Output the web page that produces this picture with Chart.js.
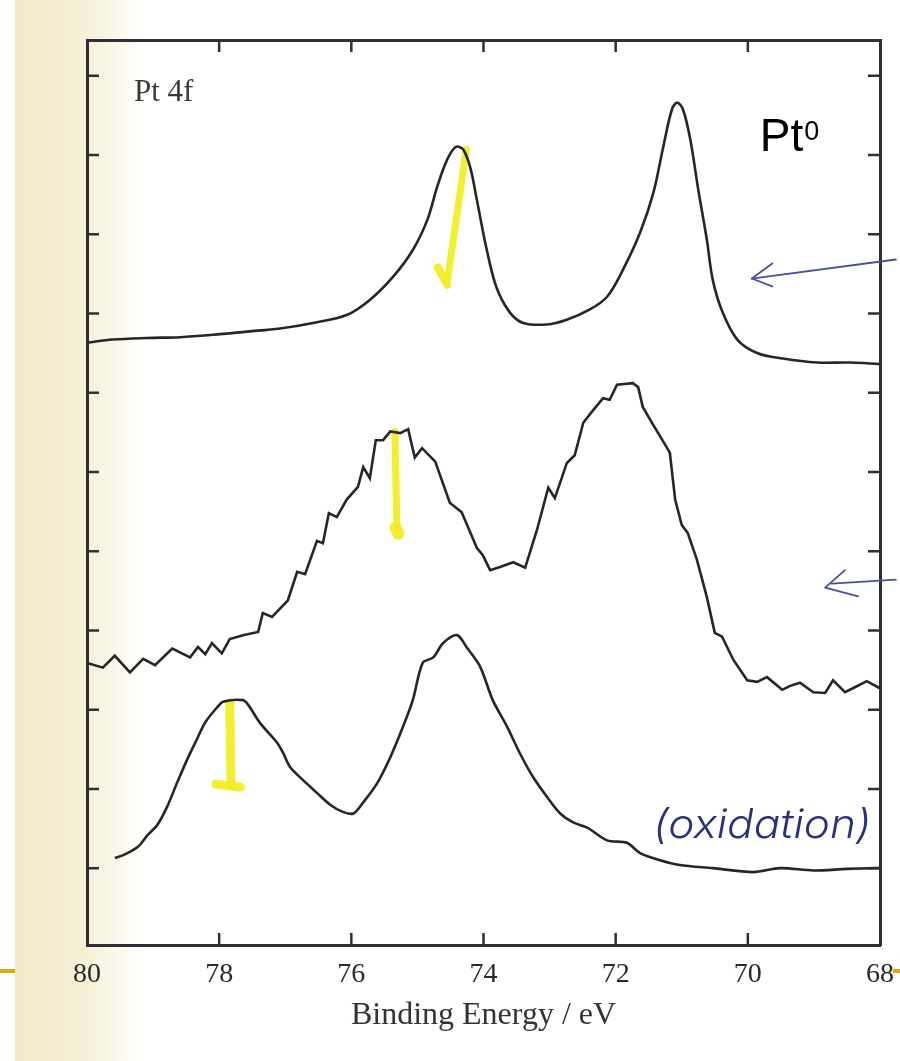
<!DOCTYPE html>
<html><head><meta charset="utf-8">
<script src="https://cdn.jsdelivr.net/npm/chart.js@4.4.1/dist/chart.umd.min.js"></script>
<style>html,body{margin:0;padding:0;background:#fff;overflow:hidden}canvas{display:block}</style>
</head><body>
<canvas id="c" width="900" height="1061"></canvas>
<script>
// ---------------- data ----------------
// x: binding energy (eV); y: intensity in units of the y tick spacing (spectra stacked with offsets)
const energyTop = [80.00, 79.61, 79.09, 78.59, 78.09, 77.58, 77.08, 76.58, 76.07, 75.72, 75.37, 75.07, 74.85, 74.70, 74.55, 74.42, 74.31, 74.20, 74.10, 73.95, 73.80, 73.60, 73.40, 73.04, 72.74, 72.39, 72.13, 71.89, 71.63, 71.43, 71.28, 71.15, 71.07, 70.98, 70.87, 70.75, 70.62, 70.53, 70.38, 70.16, 69.86, 69.47, 68.95, 68.45, 68.00];
const intensityTop = [6.63, 6.67, 6.69, 6.70, 6.73, 6.77, 6.81, 6.88, 6.98, 7.17, 7.46, 7.80, 8.18, 8.60, 8.94, 9.10, 9.07, 8.84, 8.43, 7.80, 7.32, 7.01, 6.88, 6.86, 6.92, 7.05, 7.21, 7.55, 8.02, 8.52, 9.10, 9.57, 9.66, 9.57, 9.19, 8.56, 7.93, 7.42, 7.01, 6.67, 6.50, 6.43, 6.38, 6.38, 6.36];

const energyMid = [80.00, 79.76, 79.58, 79.35, 79.15, 78.97, 78.71, 78.44, 78.32, 78.21,
  78.11, 77.96, 77.84, 77.64, 77.41, 77.34, 77.20, 76.96, 76.82, 76.70,
  76.52, 76.43, 76.34, 76.22, 76.07, 75.90, 75.82, 75.72, 75.63, 75.52,
  75.41, 75.26, 75.14, 75.04, 74.93, 74.73, 74.51, 74.33, 74.10, 74.01,
  73.90, 73.75, 73.55, 73.37, 73.19, 73.02, 72.92, 72.74, 72.62, 72.49,
  72.34, 72.19, 72.09, 71.98, 71.74, 71.66, 71.59, 71.43, 71.22, 71.18,
  71.10, 71.00, 70.91, 70.77, 70.62, 70.50, 70.39, 70.22, 70.01, 69.86,
  69.71, 69.48, 69.36, 69.21, 69.01, 68.83, 68.71, 68.53, 68.41, 68.20, 68.00];
const intensityMid = [2.59, 2.53, 2.68, 2.47, 2.64, 2.56, 2.77, 2.66, 2.79, 2.70,
  2.84, 2.71, 2.89, 2.94, 2.98, 3.22, 3.17, 3.38, 3.74, 3.71,
  4.13, 4.10, 4.48, 4.43, 4.65, 4.81, 5.06, 4.92, 5.40, 5.40,
  5.51, 5.49, 5.54, 5.18, 5.30, 5.13, 4.61, 4.49, 4.04, 3.95,
  3.76, 3.80, 3.86, 3.79, 4.27, 4.80, 4.67, 5.11, 5.21, 5.62,
  5.78, 5.93, 5.91, 6.10, 6.12, 6.07, 5.82, 5.59, 5.30, 5.24,
  4.65, 4.33, 4.23, 3.89, 3.42, 2.97, 2.92, 2.63, 2.37, 2.35,
  2.41, 2.25, 2.30, 2.34, 2.22, 2.21, 2.37, 2.22, 2.27, 2.36, 2.27];

const energyBot = [79.58, 79.46, 79.23, 79.08, 78.94, 78.79, 78.64, 78.49, 78.34, 78.21,
  78.03, 77.94, 77.64, 77.56, 77.38, 77.12, 77.03, 76.93, 76.73, 76.52,
  76.32, 76.13, 75.97, 75.82, 75.61, 75.41, 75.22, 75.07, 74.92, 74.76,
  74.61, 74.40, 74.25, 74.05, 73.86, 73.64, 73.45, 73.25, 73.04, 72.84,
  72.65, 72.43, 72.13, 71.83, 71.63, 71.33, 71.03, 70.53, 69.92, 69.51,
  69.01, 68.50, 68.08, 68.00];
const intensityBot = [0.13, 0.16, 0.27, 0.42, 0.54, 0.77, 1.07, 1.36, 1.62, 1.84,
  2.03, 2.10, 2.12, 2.06, 1.83, 1.58, 1.45, 1.28, 1.11, 0.95,
  0.80, 0.71, 0.69, 0.83, 1.07, 1.40, 1.78, 2.12, 2.59, 2.66,
  2.84, 2.94, 2.78, 2.54, 2.12, 1.78, 1.45, 1.15, 0.90, 0.69,
  0.58, 0.51, 0.35, 0.32, 0.19, 0.10, 0.04, 0.00, -0.05, 0.00,
  -0.03, -0.01, 0.00, 0.00];

const xTickValues = [80, 78, 76, 74, 72, 70, 68];
const yTickValues = [0, 1, 2, 3, 4, 5, 6, 7, 8, 9, 10];
const xAxisTitle = 'Binding Energy / eV';
const panelLabel = 'Pt 4f';
const noteOxidation = '(oxidation)';

// ---------------- layout / style ----------------
const FRAME = {left: 87, right: 880, top: 40, bottom: 945};
const AXIS_COLOR = '#2e2e36';
const INK = '#262626';
const SERIF = '"Liberation Serif", "DejaVu Serif", serif';

function pts(e, v) { return e.map((x, i) => ({x: x, y: v[i]})); }

const backgroundPlugin = {
  id: 'paper',
  beforeDraw(chart) {
    const ctx = chart.ctx;
    ctx.save();
    ctx.fillStyle = '#ffffff';
    ctx.fillRect(0, 0, chart.width, chart.height);
    const g = ctx.createLinearGradient(15, 0, 145, 0);
    g.addColorStop(0, 'rgb(242,232,202)');
    g.addColorStop(0.55, 'rgb(246,240,216)');
    g.addColorStop(1, 'rgba(255,255,255,1)');
    ctx.fillStyle = g;
    ctx.fillRect(15, 0, 130, chart.height);
    // slide template rule peeking out on both sides
    ctx.fillStyle = 'rgb(226,164,24)';
    ctx.fillRect(0, 969, 15, 4);
    ctx.fillRect(893, 969, 7, 4);
    ctx.restore();
  }
};

function P(chart, e, v) {
  return [chart.scales.x.getPixelForValue(e), chart.scales.y.getPixelForValue(v)];
}

const highlightPlugin = {
  id: 'highlight',
  beforeDatasetsDraw(chart) {
    const ctx = chart.ctx;
    ctx.save();
    ctx.strokeStyle = 'rgba(240,238,32,0.92)';
    ctx.lineCap = 'round';
    ctx.lineJoin = 'round';
    const stroke = (list, w) => {
      ctx.lineWidth = w;
      ctx.beginPath();
      list.forEach((p, i) => {
        const q = P(chart, p[0], p[1]);
        if (i === 0) ctx.moveTo(q[0], q[1]); else ctx.lineTo(q[0], q[1]);
      });
      ctx.stroke();
    };
    stroke([[74.26, 9.07], [74.55, 7.39]], 7);
    stroke([[74.69, 7.58], [74.55, 7.36]], 8);
    stroke([[75.34, 5.51], [75.31, 4.27]], 7);
    stroke([[75.33, 4.30], [75.29, 4.22]], 12);
    stroke([[77.84, 2.08], [77.82, 1.05]], 9);
    stroke([[78.05, 1.06], [77.68, 1.02]], 9);
    ctx.restore();
  }
};

const overlayPlugin = {
  id: 'overlay',
  afterDraw(chart) {
    const ctx = chart.ctx;
    const a = chart.chartArea;
    const x = chart.scales.x, y = chart.scales.y;
    ctx.save();
    // inward tick marks on all four sides
    ctx.strokeStyle = AXIS_COLOR;
    ctx.lineWidth = 2.5;
    ctx.beginPath();
    x.ticks.forEach(t => {
      if (t.value === x.min || t.value === x.max) return;
      const px = x.getPixelForValue(t.value);
      ctx.moveTo(px, a.bottom); ctx.lineTo(px, a.bottom - 12);
      ctx.moveTo(px, a.top); ctx.lineTo(px, a.top + 12);
    });
    y.ticks.forEach(t => {
      const py = y.getPixelForValue(t.value);
      ctx.moveTo(a.left, py); ctx.lineTo(a.left + 12, py);
      ctx.moveTo(a.right, py); ctx.lineTo(a.right - 12, py);
    });
    ctx.stroke();

    // panel label
    ctx.fillStyle = '#3a3a3a';
    ctx.font = '31px ' + SERIF;
    ctx.textBaseline = 'alphabetic';
    ctx.textAlign = 'left';
    ctx.fillText(panelLabel, 134, 101);

    // Pt0 label
    ctx.fillStyle = '#000';
    ctx.font = '46px "Liberation Sans", Arial, sans-serif';
    const lp = P(chart, 69.82, 9.05);
    ctx.fillText('Pt', lp[0], lp[1]);
    const w = ctx.measureText('Pt').width;
    ctx.font = '27px "Liberation Sans", Arial, sans-serif';
    ctx.fillText('0', lp[0] + w + 1, lp[1] - 11);

    // hand-drawn blue arrows
    ctx.strokeStyle = 'rgb(72,80,160)';
    ctx.lineWidth = 1.8;
    ctx.lineCap = 'round';
    ctx.lineJoin = 'round';
    const path = (list) => {
      ctx.beginPath();
      list.forEach((p, i) => {
        const q = P(chart, p[0], p[1]);
        if (i === 0) ctx.moveTo(q[0], q[1]); else ctx.lineTo(q[0], q[1]);
      });
      ctx.stroke();
    };
    path([[67.76, 7.68], [69.94, 7.44]]);
    path([[69.63, 7.63], [69.94, 7.44], [69.63, 7.34]]);
    path([[68.73, 3.59], [67.76, 3.64]]);
    path([[68.53, 3.76], [68.83, 3.54], [68.33, 3.43]]);

    // handwritten note
    const np = P(chart, 71.43, 0.38);
    ctx.fillStyle = 'rgb(42,48,125)';
    ctx.font = 'italic 300 28px Inter, "Open Sans", "DejaVu Sans", sans-serif';
    const nw = ctx.measureText(noteOxidation).width;
    ctx.translate(np[0], np[1]);
    ctx.scale(218 / nw, 1.45);
    ctx.fillText(noteOxidation, 0, 0);
    ctx.restore();
  }
};

const borderOpts = {display: true, color: AXIS_COLOR, width: 3};

new Chart(document.getElementById('c'), {
  type: 'line',
  data: {
    datasets: [
      {label: 'Pt 4f (Pt0)', data: pts(energyTop, intensityTop), borderColor: INK, borderWidth: 2.6, tension: 0.35, pointRadius: 0, fill: false},
      {label: 'Pt 4f (intermediate)', data: pts(energyMid, intensityMid), borderColor: INK, borderWidth: 2.6, tension: 0, pointRadius: 0, fill: false},
      {label: 'Pt 4f (oxidation)', data: pts(energyBot, intensityBot), borderColor: INK, borderWidth: 2.6, tension: 0.3, pointRadius: 0, fill: false}
    ]
  },
  options: {
    responsive: false,
    animation: false,
    events: [],
    layout: {padding: 0},
    plugins: {legend: {display: false}, tooltip: {enabled: false}, title: {display: false}},
    scales: {
      x: {
        type: 'linear', position: 'bottom', min: 68, max: 80, reverse: true,
        afterBuildTicks: s => { s.ticks = xTickValues.map(v => ({value: v})); },
        afterFit: s => { s.height = 1061 - FRAME.bottom; s.paddingLeft = 0; s.paddingRight = 0; },
        grid: {display: false, drawTicks: false},
        border: borderOpts,
        ticks: {padding: 13, autoSkip: false, maxRotation: 0, color: '#2a2a2a',
                font: {family: SERIF, size: 28}, callback: v => String(v)},
        title: {display: true, text: xAxisTitle, color: '#333333',
                font: {family: SERIF, size: 32}, padding: {top: 0, bottom: 26}}
      },
      x2: {
        type: 'linear', position: 'top', min: 68, max: 80, reverse: true,
        afterFit: s => { s.height = FRAME.top; s.paddingLeft = 0; s.paddingRight = 0; },
        grid: {display: false, drawTicks: false}, border: borderOpts,
        ticks: {display: false}
      },
      y: {
        type: 'linear', position: 'left', min: -0.97, max: 10.45,
        afterBuildTicks: s => { s.ticks = yTickValues.map(v => ({value: v})); },
        afterFit: s => { s.width = FRAME.left; s.paddingTop = 0; s.paddingBottom = 0; },
        grid: {display: false, drawTicks: false}, border: borderOpts,
        ticks: {display: false}
      },
      y2: {
        type: 'linear', position: 'right', min: -0.97, max: 10.45,
        afterFit: s => { s.width = 900 - FRAME.right; s.paddingTop = 0; s.paddingBottom = 0; },
        grid: {display: false, drawTicks: false}, border: borderOpts,
        ticks: {display: false}
      }
    }
  },
  plugins: [backgroundPlugin, highlightPlugin, overlayPlugin]
});
</script>
</body></html>
